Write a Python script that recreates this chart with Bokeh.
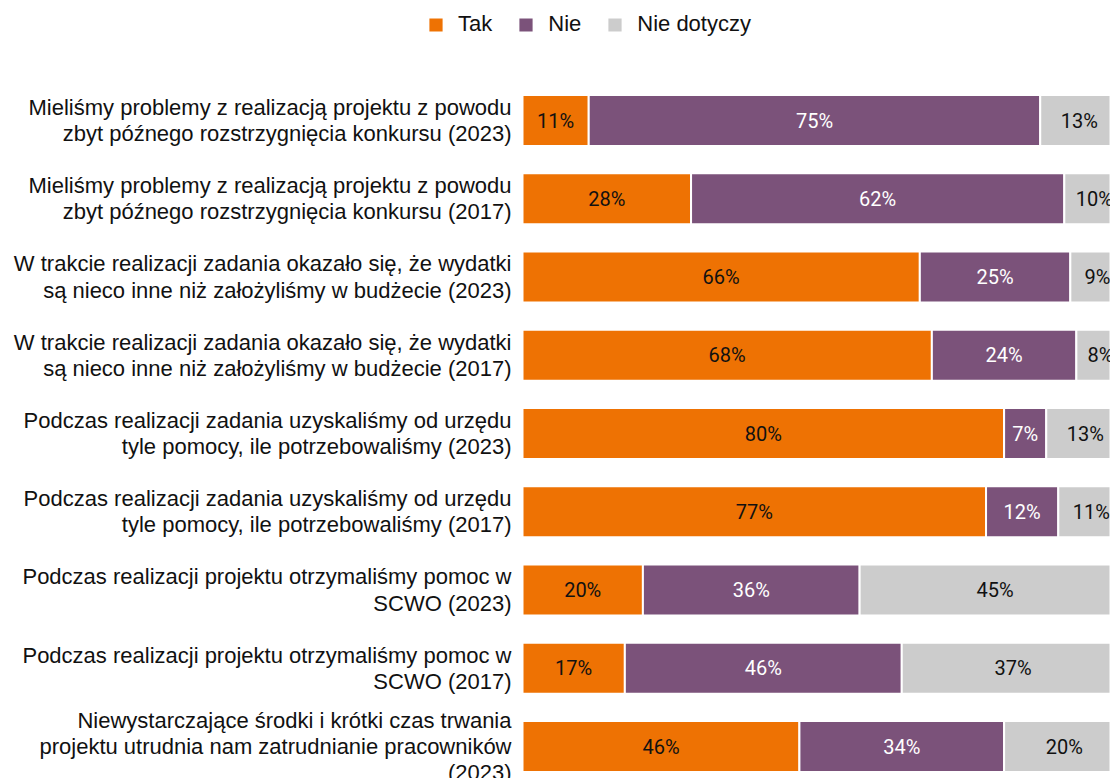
from bokeh.plotting import figure
from bokeh.models import ColumnDataSource, Range1d
from bokeh.core.properties import value
from bokeh.embed import file_html
from bokeh.resources import INLINE

categories = [
    "Mieliśmy problemy z realizacją projektu z powodu\nzbyt późnego rozstrzygnięcia konkursu (2023)",
    "Mieliśmy problemy z realizacją projektu z powodu\nzbyt późnego rozstrzygnięcia konkursu (2017)",
    "W trakcie realizacji zadania okazało się, że wydatki\nsą nieco inne niż założyliśmy w budżecie (2023)",
    "W trakcie realizacji zadania okazało się, że wydatki\nsą nieco inne niż założyliśmy w budżecie (2017)",
    "Podczas realizacji zadania uzyskaliśmy od urzędu\ntyle pomocy, ile potrzebowaliśmy (2023)",
    "Podczas realizacji zadania uzyskaliśmy od urzędu\ntyle pomocy, ile potrzebowaliśmy (2017)",
    "Podczas realizacji projektu otrzymaliśmy pomoc w\nSCWO (2023)",
    "Podczas realizacji projektu otrzymaliśmy pomoc w\nSCWO (2017)",
    "Niewystarczające środki i krótki czas trwania\nprojektu utrudnia nam zatrudnianie pracowników\n(2023)",
]
tak = [11, 28, 66, 68, 80, 77, 20, 17, 46]
nie = [75, 62, 25, 24, 7, 12, 36, 46, 34]
nie_dotyczy = [13, 10, 9, 8, 13, 11, 45, 37, 20]
series_names = ["Tak", "Nie", "Nie dotyczy"]
series_colors = ["#EE7203", "#7B527A", "#CCCCCC"]
label_colors = ["#111111", "#FFFFFF", "#111111"]

W, H = 1110, 778
px_per_pct = 6.02
bar_left_px = 522
first_center_px = 120
row_px = 78.25

ys = list(range(len(categories)))
src = ColumnDataSource(dict(y=ys, cat=categories, Tak=tak, Nie=nie, ND=nie_dotyczy))

p = figure(width=W, height=H, output_backend="svg", toolbar_location=None,
           x_axis_location=None, y_axis_location=None, min_border=0,
           x_range=Range1d(-bar_left_px / px_per_pct, (W - bar_left_px) / px_per_pct),
           y_range=Range1d((H - first_center_px) / row_px, -first_center_px / row_px))
p.outline_line_color = None
p.xgrid.visible = False
p.ygrid.visible = False

p.hbar_stack(["Tak", "Nie", "ND"], y="y", height=51 / row_px, color=series_colors,
             line_color="white", line_width=2, source=src, legend_label=series_names)

# segment labels
all_series = [tak, nie, nie_dotyczy]
for k, vals in enumerate(all_series):
    starts = [sum(s[j] for s in all_series[:k]) for j in range(len(vals))]
    centers = [s + v / 2 for s, v in zip(starts, vals)]
    lsrc = ColumnDataSource(dict(x=centers, y=ys, t=[f"{v}%" for v in vals]))
    p.text(x="x", y="y", text="t", source=lsrc, text_align="center", text_baseline="middle",
           text_font=value("Roboto"), text_font_size="20px", text_color=label_colors[k])

# category labels
p.text(x=0, y="y", text="cat", source=src, x_offset=-11, text_align="right",
       text_baseline="middle", text_font=value("Liberation Sans"), text_font_size="22px",
       text_color="#111111", text_line_height=1.05)

lg = p.legend[0]
lg.orientation = "horizontal"
lg.location = (426, H - 18 - 19)
lg.glyph_width = 19
lg.glyph_height = 19
lg.label_height = 19
lg.label_standoff = 13
lg.spacing = 24
lg.padding = 0
lg.margin = 0
lg.border_line_color = None
lg.background_fill_alpha = 0
lg.label_text_font = "Liberation Sans"
lg.label_text_font_size = "22px"
lg.label_text_color = "#111111"

open("out.html", "w").write(file_html(p, INLINE))
